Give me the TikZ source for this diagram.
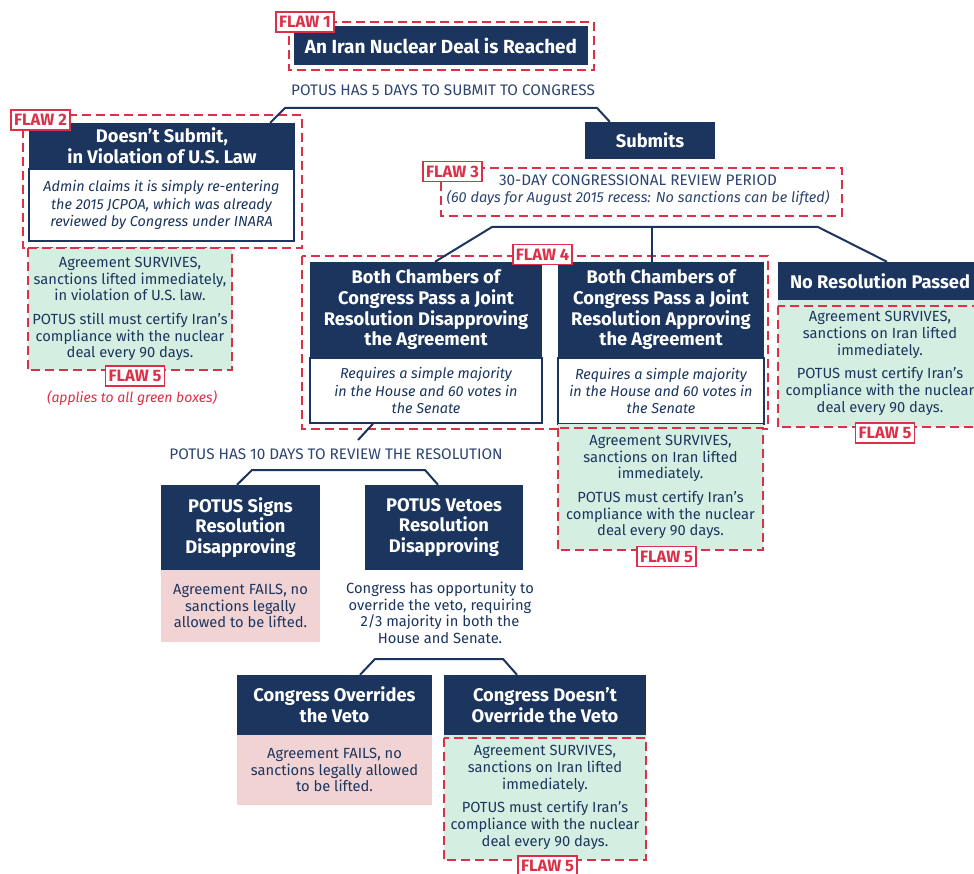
\documentclass[tikz,border=0pt]{standalone}
\usepackage{fontspec}
\setmainfont{Fira Sans}
\usetikzlibrary{calc}
\definecolor{navy}{HTML}{1B355E}
\definecolor{flawred}{HTML}{DC3048}
\definecolor{okgreen}{HTML}{D4EFE1}
\definecolor{failpink}{HTML}{F2D3D4}
\definecolor{slate}{HTML}{2E4470}
\newcommand{\headfont}{\fontsize{18.3}{20.7}\selectfont\bfseries}
\newcommand{\bodyfont}{\fontsize{14.7}{16.7}\selectfont}
\newcommand{\notefont}{\fontsize{14.4}{17.2}\selectfont\itshape}
\newcommand{\capsfont}{\fontsize{15.3}{17}\selectfont}
\tikzset{
  head/.style={fill=navy, text=white, font=\headfont, align=center, inner sep=0pt},
  notebox/.style={draw=navy, line width=1.5pt, fill=white, text=navy,
    font=\notefont, align=center, inner sep=0pt},
  okbox/.style={fill=okgreen, text=navy, font=\bodyfont, align=center, inner sep=0pt},
  failbox/.style={fill=failpink, text=navy, font=\bodyfont, align=center, inner sep=0pt},
  flawline/.style={draw=flawred, line width=1.5pt, dash pattern=on 9pt off 5pt},
  flawtag/.style={draw=flawred, line width=1.5pt, fill=white, text=flawred,
    font=\fontsize{16.5}{16.5}\selectfont\bfseries, inner xsep=3pt, inner ysep=0pt,
    minimum height=20},
  caption/.style={text=slate, font=\capsfont, align=center},
  link/.style={draw=navy, line width=2pt},
}
\begin{document}
\begin{tikzpicture}[x=1pt,y=-1pt]
  \useasboundingbox[fill=white] (0,0) rectangle (974,874);

  % top of the tree
  \node[head, font=\fontsize{19}{22}\selectfont\bfseries,
    minimum width=294, minimum height=39] (deal) at (441,45.5)
    {An Iran Nuclear Deal is Reached};
  \draw[flawline] (289,22) rectangle (594,70);
  \node[caption] (days5) at (443,90) {POTUS HAS 5 DAYS TO SUBMIT TO CONGRESS};

  % does not submit
  \node[head, minimum width=266, minimum height=46] (nosubmit) at (162,146)
    {Doesn’t Submit,\\ in Violation of U.S. Law};
  \node[notebox, minimum width=265, minimum height=72] (nsnote) at (161.5,205)
    {Admin claims it is simply re-entering\\ the 2015 JCPOA, which was already\\
     reviewed by Congress under INARA};
  \draw[flawline] (23,115) rectangle (302,248);
  \node[okbox, minimum width=204, minimum height=122] (okA) at (130,309)
    {Agreement SURVIVES,\\ sanctions lifted immediately,\\ in violation of U.S. law.\\[7pt]
     POTUS still must certify Iran’s\\ compliance with the nuclear\\ deal every 90 days.};
  \draw[flawline] (okA.north west) rectangle (okA.south east);
  \node[text=flawred, font=\fontsize{14}{16}\selectfont\itshape] (applies) at (132,398)
    {(applies to all green boxes)};

  % submits
  \node[head, minimum width=130, minimum height=37] (submits) at (650,140.5) {Submits};
  \draw[link] ($(nosubmit.north east)+(-25,0)$) -- (285,108) -- (597,108)
    -- ($(submits.north west)+(25,0)$);
  \node[caption] (review) at (638,190.5)
    {30-DAY CONGRESSIONAL REVIEW PERIOD\\
     {\fontsize{14.5}{17}\selectfont\itshape (60 days for August 2015 recess: No sanctions can be lifted)}};
  \draw[flawline] (441,168) rectangle (842,216);

  % three outcomes of the review
  \node[head, minimum width=232, minimum height=96] (disapprove) at (426,310)
    {Both Chambers of\\ Congress Pass a Joint\\ Resolution Disapproving\\ the Agreement};
  \node[notebox, minimum width=232, minimum height=65] (dnote) at (426,390.5)
    {Requires a simple majority\\ in the House and 60 votes in\\ the Senate};
  \node[head, minimum width=206, minimum height=96] (approve) at (661,310)
    {Both Chambers of\\ Congress Pass a Joint\\ Resolution Approving\\ the Agreement};
  \node[notebox, minimum width=206, minimum height=66] (anote) at (661,391)
    {Requires a simple majority\\ in the House and 60 votes in\\ the Senate};
  \draw[flawline] (302,256) rectangle (768,429);
  \node[head, minimum width=204, minimum height=38] (noresolution) at (880,281)
    {No Resolution Passed};
  \draw[link] ($(disapprove.north)+(9,0)$) -- (492,227) -- (818,227)
    -- ($(noresolution.north)+(7,0)$);
  \draw[link] ($(approve.north)+(-9,0)$) -- ++(0,-35);

  \node[okbox, minimum width=205, minimum height=126] (okB) at (660.5,487)
    {Agreement SURVIVES,\\ sanctions on Iran lifted\\ immediately.\\[7pt]
     POTUS must certify Iran’s\\ compliance with the nuclear\\ deal every 90 days.};
  \draw[flawline] ($(okB.north west)+(0,4)$) rectangle (okB.south east);
  \node[okbox, minimum width=204, minimum height=127] (okC) at (880,363.5)
    {Agreement SURVIVES,\\ sanctions on Iran lifted\\ immediately.\\[7pt]
     POTUS must certify Iran’s\\ compliance with the nuclear\\ deal every 90 days.};
  \draw[flawline] ($(okC.north west)+(0,6)$) rectangle (okC.south east);

  % president reviews the resolution
  \node[caption] (days10) at (336,454) {POTUS HAS 10 DAYS TO REVIEW THE RESOLUTION};
  \draw[link] ($(dnote.south)+(-53,0)$) -- (358,440);
  \node[head, minimum width=159, minimum height=85] (signs) at (240.5,527.5)
    {POTUS Signs\\ Resolution\\ Disapproving};
  \node[failbox, minimum width=159, minimum height=72] (failA) at (240.5,606)
    {Agreement FAILS, no\\ sanctions legally\\ allowed to be lifted.};
  \node[head, minimum width=158, minimum height=85] (vetoes) at (444,527.5)
    {POTUS Vetoes\\ Resolution\\ Disapproving};
  \draw[link] ($(signs.north)+(-3.5,0)$) -- (252,470) -- (425,470)
    -- ($(vetoes.north)+(-6,0)$);
  \node[text=navy, font=\bodyfont, align=center] (vetonote) at (440,613)
    {Congress has opportunity to\\ override the veto, requiring\\ 2/3 majority in both the\\
     House and Senate.};

  % congress and the veto
  \node[head, minimum width=195, minimum height=60] (overrides) at (334.5,705)
    {Congress Overrides\\ the Veto};
  \node[failbox, minimum width=195, minimum height=70] (failB) at (334.5,770)
    {Agreement FAILS, no\\ sanctions legally allowed\\ to be lifted.};
  \node[head, minimum width=202, minimum height=60] (notoverride) at (545,705)
    {Congress Doesn’t\\ Override the Veto};
  \draw[link] ($(overrides.north)+(25.5,0)$) -- (375,659) -- (503,659)
    -- ($(notoverride.north)+(-28,0)$);
  \node[okbox, minimum width=202, minimum height=125] (okD) at (545,797.5)
    {Agreement SURVIVES,\\ sanctions on Iran lifted\\ immediately.\\[7pt]
     POTUS must certify Iran’s\\ compliance with the nuclear\\ deal every 90 days.};
  \draw[flawline] ($(okD.north west)+(0,3)$) rectangle (okD.south east);

  % flaw tags
  \node[flawtag] (flaw1) at (305,22) {FLAW 1};
  \node[flawtag] (flaw2) at (40.5,120) {FLAW 2};
  \node[flawtag] (flaw3) at (452.5,171.5) {FLAW 3};
  \node[flawtag] (flaw4) at (542.5,254.5) {FLAW 4};
  \node[flawtag] (flaw5a) at (135,376) {FLAW 5};
  \node[flawtag] (flaw5b) at (666.5,556.5) {FLAW 5};
  \node[flawtag] (flaw5c) at (885,433) {FLAW 5};
  \node[flawtag] (flaw5d) at (547.5,866) {FLAW 5};
\end{tikzpicture}
\end{document}
